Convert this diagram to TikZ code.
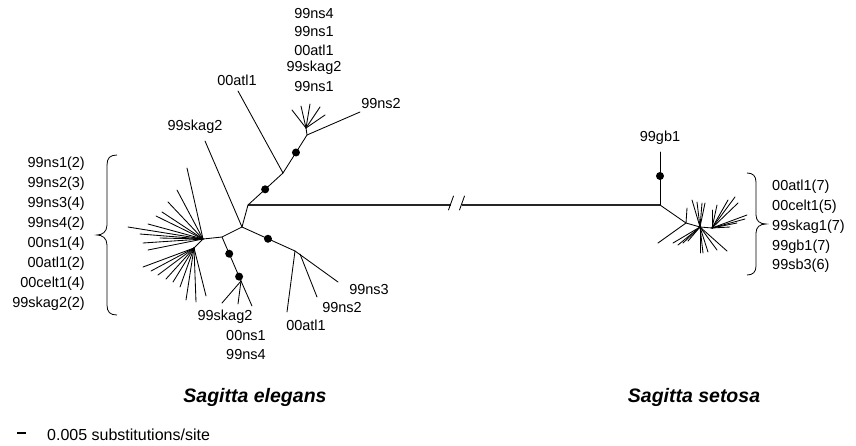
\documentclass[tikz,border=0pt]{standalone}
\usepackage{fontspec}
\setmainfont{Liberation Sans}
\usetikzlibrary{calc}
\begin{document}
\begin{tikzpicture}[x=1pt,y=-1pt,
  br/.style={line width=0.85pt, line cap=round},
  mainline/.style={line width=1.1pt, black!85},
  dotn/.style={circle, fill=black, inner sep=0pt, minimum size=8pt},
  lab/.style={font=\fontsize{14.5}{17}\selectfont, inner sep=0pt},
  ttl/.style={font=\fontsize{19.5}{22}\selectfont\bfseries\itshape, inner sep=0pt},
  brc/.style={line width=0.8pt}]
\useasboundingbox (0,0) rectangle (856,445);

% ---- main vertices
\coordinate (A) at (248,205);
\coordinate (B) at (660,205);
\coordinate (C) at (242,227);
\coordinate (D) at (283,173);
\coordinate (E) at (307,135);
\coordinate (E2) at (306,128);
\coordinate (F) at (222,237);
\coordinate (G) at (203,239);
\coordinate (G3) at (194,248);
\coordinate (H) at (241,281);
\coordinate (I) at (295,251);
\coordinate (Ib) at (300,254);
\coordinate (K) at (686,223);
\coordinate (M) at (700,227);
\coordinate (N) at (712,228);
\coordinate (Vt) at (660,152);

% ---- long branch with break
\coordinate (bk1) at (451,205);
\coordinate (bk2) at (462,205);
\draw[mainline] (A) -- (bk1);
\draw[mainline] (bk2) -- (B);
\draw[br] ($(bk1)+(-2.5,5)$) -- ($(bk1)+(2.5,-9)$);
\draw[br] ($(bk2)+(-2.5,5)$) -- ($(bk2)+(2.5,-9)$);

% ---- left tree internal branches
\draw[br] (A) -- (C);
\draw[br] (A) -- (D) -- (E) -- (E2);
\draw[br] (C) -- (F) -- (G) -- (G3);
\draw[br] (F) -- (H);
\draw[br] (C) -- (I);

% leaves
\coordinate (l00atlA) at (238,91);
\draw[br] (D) -- (l00atlA);
\coordinate (l99skagA) at (205,141);
\draw[br] (C) -- (l99skagA);
\coordinate (l99ns2A) at (360,112);
\draw[br] (E) -- (l99ns2A);
\foreach \i/\x/\y in {1/292/110,2/301/106,3/310/104,4/320/107,5/325/115}
  {\coordinate (tf\i) at (\x,\y); \draw[br] (E2) -- (tf\i);}
\foreach \i/\x/\y in {1/222/303,2/238/304,3/252/306}
  {\coordinate (hb\i) at (\x,\y); \draw[br] (H) -- (hb\i);}
\coordinate (l00atlB) at (287,312);
\draw[br] (I) -- (l00atlB);
\coordinate (l99ns2B) at (317,297);
\draw[br] (Ib) -- (l99ns2B);
\coordinate (l99ns3) at (338,282);
\draw[br] (I) -- (l99ns3);

% star of the left cluster
\foreach \i/\x/\y in {1/187/168,2/177/190,3/168/202,4/162/212,5/156/216,
                      6/128/227,7/148/224,8/140/234,9/143/243,10/148/250,11/160/238}
  {\coordinate (gs\i) at (\x,\y); \draw[br] (G) -- (gs\i);}
\foreach \i/\x/\y in {1/143/267,2/151/271,3/158/275,4/166/279,5/173/282,
                      6/180/287,7/186/300,8/196/302,9/206/296}
  {\coordinate (gt\i) at (\x,\y); \draw[br] (G3) -- (gt\i);}

% dots
\node[dotn] (dA) at ($(A)!0.49!(D)$) {};
\node[dotn] (dB) at ($(D)!0.54!(E)$) {};
\node[dotn] (dC) at ($(C)!0.49!(I)$) {};
\node[dotn] (dD) at ($(F)!0.38!(H)$) {};
\node[dotn] (dE) at ($(F)!0.9!(H)$) {};

% ---- right tree
\draw[br] (B) -- (Vt);
\node[dotn] (dF) at (660,176) {};
\draw[br] (B) -- (K) -- (M) -- (N);
\coordinate (ka) at (658,243); \draw[br] (K) -- (ka);
\coordinate (kb) at (687,208); \draw[br] (K) -- (kb);
\foreach \i/\x/\y in {1/692/200,2/697/202,3/702/203,4/705/203,
                      5/673/243,6/678/245,7/683/243,8/688/241,
                      9/700/253,10/703/253,11/708/252,12/717/250,13/727/251}
  {\coordinate (ms\i) at (\x,\y); \draw[br] (M) -- (ms\i);}
\foreach \i/\x/\y in {1/712/210,2/717/205,3/728/200,4/735/197,5/738/203,
                      6/747/215,7/745/219,8/737/223,9/730/227}
  {\coordinate (ns\i) at (\x,\y); \draw[br] (N) -- (ns\i);}

% ---- labels
\node[lab] (t1) at (314,14) {99ns4};
\node[lab] (t2) at (314,32) {99ns1};
\node[lab] (t3) at (314,50) {00atl1};
\node[lab] (t4) at (314,68) {99skag2};
\node[lab] (t5) at (314,87) {99ns1};
\node[lab] (t6) at (381,104) {99ns2};
\node[lab] (t7) at (237,80) {00atl1};
\node[lab] (t8) at (195,127) {99skag2};
\node[lab] (b1) at (225,317) {99skag2};
\node[lab] (b2) at (246,336) {00ns1};
\node[lab] (b3) at (246,355) {99ns4};
\node[lab] (b4) at (306,325) {00atl1};
\node[lab] (b5) at (342,308) {99ns2};
\node[lab] (b6) at (369,290) {99ns3};
\node[lab] (gb) at (660,138) {99gb1};

\foreach \i/\y/\t in {1/164/99ns1(2),2/184/99ns2(3),3/204/99ns3(4),4/224/99ns4(2),
                      5/244/00ns1(4),6/264/00atl1(2),7/284/00celt1(4),8/304/99skag2(2)}
  {\node[lab, anchor=east] (ll\i) at (85,\y) {\t};}
\foreach \i/\y/\t in {1/187/00atl1(7),2/207/00celt1(5),3/227/99skag1(7),4/247/99gb1(7),5/266/99sb3(6)}
  {\node[lab, anchor=west] (rl\i) at (772,\y) {\t};}

% braces
\draw[brc] (117,155) .. controls (110,155) and (107,158) .. (107,165) -- (107,225)
  .. controls (107,232) and (102,235) .. (97,235) .. controls (102,235) and (107,238) .. (107,245)
  -- (107,305) .. controls (107,312) and (110,315) .. (117,315);
\draw[brc] (747,173) .. controls (753,173) and (756,176) .. (756,182) -- (756,215)
  .. controls (756,221) and (760,224) .. (766,224) .. controls (760,224) and (756,227) .. (756,233)
  -- (756,266) .. controls (756,272) and (753,275) .. (747,275);

% titles
\node[ttl] (se) at (255,397) {Sagitta elegans};
\node[ttl] (ss) at (694,397) {Sagitta setosa};

% scale
\coordinate (s1) at (17,433);
\coordinate (s2) at (26,433);
\draw[line width=1.3pt] (s1) -- (s2);
\node[lab, anchor=west, font=\fontsize{16}{18}\selectfont] (sc) at (47,435) {0.005 substitutions/site};
\end{tikzpicture}
\end{document}
